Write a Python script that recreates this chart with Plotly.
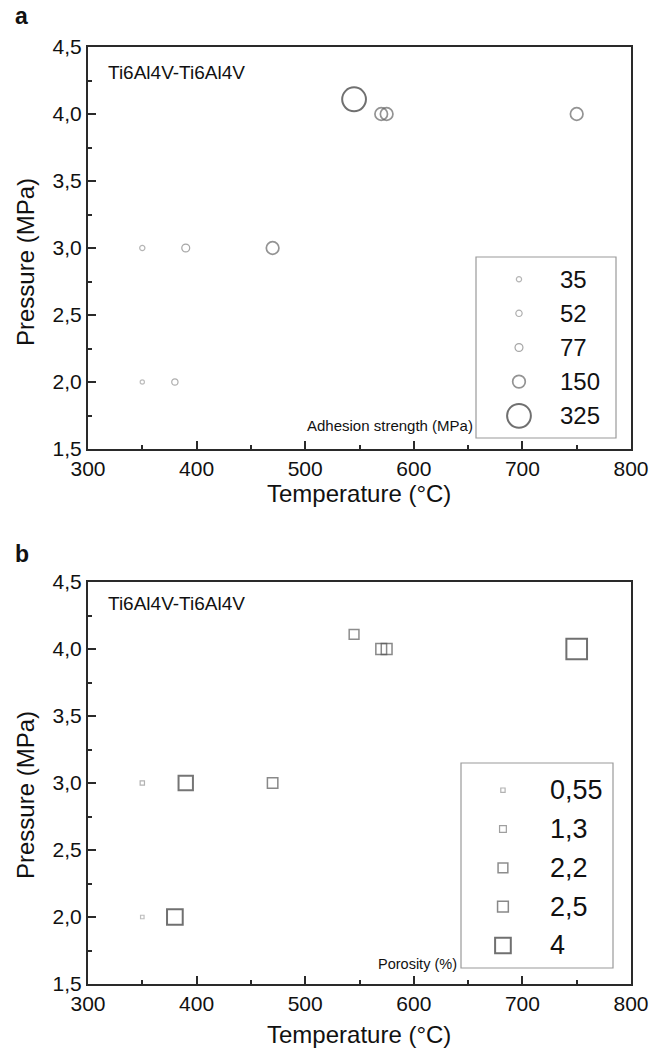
import plotly.graph_objects as go

W, H = 660, 1055

# ---------------- data ----------------
temperature = [350, 380, 350, 390, 470, 545, 570, 575, 750]
pressure = [2.0, 2.0, 3.0, 3.0, 3.0, 4.11, 4.0, 4.0, 4.0]
adhesion = [20, 52, 35, 77, 150, 325, 150, 150, 150]
porosity = [0.3, 4.0, 0.55, 3.6, 2.4, 2.2, 2.5, 2.5, 5.5]

adhesion_keys = [35, 52, 77, 150, 325]
adhesion_key_labels = ["35", "52", "77", "150", "325"]
porosity_keys = [0.55, 1.3, 2.2, 2.5, 4.0]
porosity_key_labels = ["0,55", "1,3", "2,2", "2,5", "4"]

x_ticks = [300, 400, 500, 600, 700, 800]
y_ticks = [1.5, 2.0, 2.5, 3.0, 3.5, 4.0, 4.5]


def px_x(p):
    return p / W


def px_y(p):
    return 1 - p / H


def size_a(v):
    return 3 + 0.064 * v


def size_b(v):
    return 2.5 + 3.3 * v


def gray(v, vmin, vmax, lo=0.64, hi=0.2):
    t = max(0.0, min(1.0, (v - vmin) / (vmax - vmin)))
    t = t ** 0.7
    g = int(255 * (lo + (hi - lo) * t))
    return f"rgb({g},{g},{g})"


def lw_a(v):
    return 1.2 if v < 100 else (1.7 if v < 300 else 2)


def lw_b(v):
    return 1.2 if v < 2 else (1.5 if v < 3.5 else 2)


fig = go.Figure()

# panel a data
fig.add_trace(go.Scatter(
    x=temperature, y=pressure, mode="markers", xaxis="x", yaxis="y",
    marker=dict(symbol="circle-open", size=[size_a(v) for v in adhesion],
                color=[gray(v, 20, 325) for v in adhesion],
                line=dict(width=[lw_a(v) for v in adhesion])),
    showlegend=False, hoverinfo="skip"))

# panel b data
fig.add_trace(go.Scatter(
    x=temperature, y=pressure, mode="markers", xaxis="x2", yaxis="y2",
    marker=dict(symbol="square-open", size=[size_b(v) for v in porosity],
                color=[gray(v, 0.3, 4.0) for v in porosity],
                line=dict(width=[lw_b(v) for v in porosity])),
    showlegend=False, hoverinfo="skip"))

# legend keys (drawn on hidden axes)
fig.add_trace(go.Scatter(
    x=[0.307] * len(adhesion_keys), y=list(range(len(adhesion_keys))),
    mode="markers", xaxis="x3", yaxis="y3",
    marker=dict(symbol="circle-open", size=[size_a(v) for v in adhesion_keys],
                color=[gray(v, 20, 325) for v in adhesion_keys],
                line=dict(width=[lw_a(v) for v in adhesion_keys])),
    showlegend=False, hoverinfo="skip"))
fig.add_trace(go.Scatter(
    x=[0.276] * len(porosity_keys), y=list(range(len(porosity_keys))),
    mode="markers", xaxis="x4", yaxis="y4",
    marker=dict(symbol="square-open", size=[size_b(v) for v in porosity_keys],
                color=[gray(v, 0.3, 4.0) for v in porosity_keys],
                line=dict(width=[lw_b(v) for v in porosity_keys])),
    showlegend=False, hoverinfo="skip"))

FONT = "Liberation Sans, Arial, sans-serif"
AX = "#2a2a2a"

common_x = dict(range=[300, 800], tickvals=x_ticks, ticks="inside", ticklen=8, tickwidth=2,
                tickcolor=AX, showline=True, linecolor=AX, linewidth=2, mirror=True,
                showgrid=False, zeroline=False, tickfont=dict(size=21, color="#111"),
                automargin=False,
                minor=dict(dtick=50, ticks="inside", ticklen=4, tickwidth=1.5, tickcolor=AX))
common_y = dict(range=[1.5, 4.5], tickvals=y_ticks, tickformat=".1f", ticks="inside", ticklen=8,
                tickwidth=2, tickcolor=AX, showline=True, linecolor=AX, linewidth=2, mirror=True,
                showgrid=False, zeroline=False, tickfont=dict(size=21, color="#111"),
                automargin=False,
                minor=dict(dtick=0.25, ticks="inside", ticklen=4, tickwidth=1.5, tickcolor=AX))

xa = [px_x(88), px_x(631)]
ya = [px_y(449), px_y(47)]
yb = [px_y(984), px_y(582)]

hidden = dict(visible=False, showgrid=False, zeroline=False, fixedrange=True)

fig.update_layout(
    width=W, height=H, margin=dict(l=0, r=0, t=0, b=0, autoexpand=False),
    paper_bgcolor="white", plot_bgcolor="white",
    separators=",.",
    font=dict(family=FONT, color="#111"),
    xaxis=dict(domain=xa, anchor="y", **common_x),
    yaxis=dict(domain=ya, anchor="x", **common_y),
    xaxis2=dict(domain=xa, anchor="y2", **common_x),
    yaxis2=dict(domain=yb, anchor="x2", **common_y),
    xaxis3=dict(domain=[px_x(476), px_x(616)], anchor="y3", range=[0, 1], **hidden),
    yaxis3=dict(domain=[px_y(438), px_y(257)], anchor="x3", range=[4.65, -0.65], **hidden),
    xaxis4=dict(domain=[px_x(461), px_x(613)], anchor="y4", range=[0, 1], **hidden),
    yaxis4=dict(domain=[px_y(968), px_y(763)], anchor="x4", range=[4.58, -0.7], **hidden),
    showlegend=False,
)

shapes = [
    dict(type="rect", xref="paper", yref="paper", x0=px_x(476), x1=px_x(616),
         y0=px_y(438), y1=px_y(257), line=dict(color="#9a9a9a", width=1.2), fillcolor="rgba(0,0,0,0)"),
    dict(type="rect", xref="paper", yref="paper", x0=px_x(461), x1=px_x(613),
         y0=px_y(968), y1=px_y(763), line=dict(color="#9a9a9a", width=1.2), fillcolor="rgba(0,0,0,0)"),
]
fig.update_layout(shapes=shapes)

TITLE = dict(size=24, color="#111")
ann = []
for i, lab in enumerate(adhesion_key_labels):
    ann.append(dict(x=0.586, y=i, xref="x3", yref="y3", text=lab, showarrow=False,
                    xanchor="left", yanchor="middle", font=dict(size=24, color="#111")))
for i, lab in enumerate(porosity_key_labels):
    ann.append(dict(x=0.572, y=i, xref="x4", yref="y4", text=lab, showarrow=False,
                    xanchor="left", yanchor="middle", font=dict(size=27, color="#111")))
ann += [
    # axis titles
    dict(x=px_x(359), y=px_y(494), xref="paper", yref="paper", text="Temperature (°C)",
         showarrow=False, xanchor="center", yanchor="middle", font=TITLE),
    dict(x=px_x(359), y=px_y(1034), xref="paper", yref="paper", text="Temperature (°C)",
         showarrow=False, xanchor="center", yanchor="middle", font=TITLE),
    dict(x=px_x(25), y=px_y(262), xref="paper", yref="paper", text="Pressure (MPa)",
         showarrow=False, textangle=-90, xanchor="center", yanchor="middle", font=TITLE),
    dict(x=px_x(25), y=px_y(795), xref="paper", yref="paper", text="Pressure (MPa)",
         showarrow=False, textangle=-90, xanchor="center", yanchor="middle", font=TITLE),
    # panel labels
    dict(x=px_x(13), y=px_y(16), xref="paper", yref="paper", text="<b>a</b>", showarrow=False,
         xanchor="left", yanchor="middle", font=dict(size=23, color="#111")),
    dict(x=px_x(13), y=px_y(554), xref="paper", yref="paper", text="<b>b</b>", showarrow=False,
         xanchor="left", yanchor="middle", font=dict(size=23, color="#111")),
    # inner texts
    dict(x=px_x(106), y=px_y(72), xref="paper", yref="paper", text="Ti6Al4V-Ti6Al4V", showarrow=False,
         xanchor="left", yanchor="middle", font=dict(size=19, color="#111")),
    dict(x=px_x(106), y=px_y(603), xref="paper", yref="paper", text="Ti6Al4V-Ti6Al4V", showarrow=False,
         xanchor="left", yanchor="middle", font=dict(size=19, color="#111")),
    dict(x=px_x(475), y=px_y(426), xref="paper", yref="paper", text="Adhesion strength (MPa)",
         showarrow=False, xanchor="right", yanchor="middle", font=dict(size=15, color="#111")),
    dict(x=px_x(459), y=px_y(964), xref="paper", yref="paper", text="Porosity (%)",
         showarrow=False, xanchor="right", yanchor="middle", font=dict(size=14.5, color="#111")),
]
fig.update_layout(annotations=ann)

fig.write_html("out.html")
